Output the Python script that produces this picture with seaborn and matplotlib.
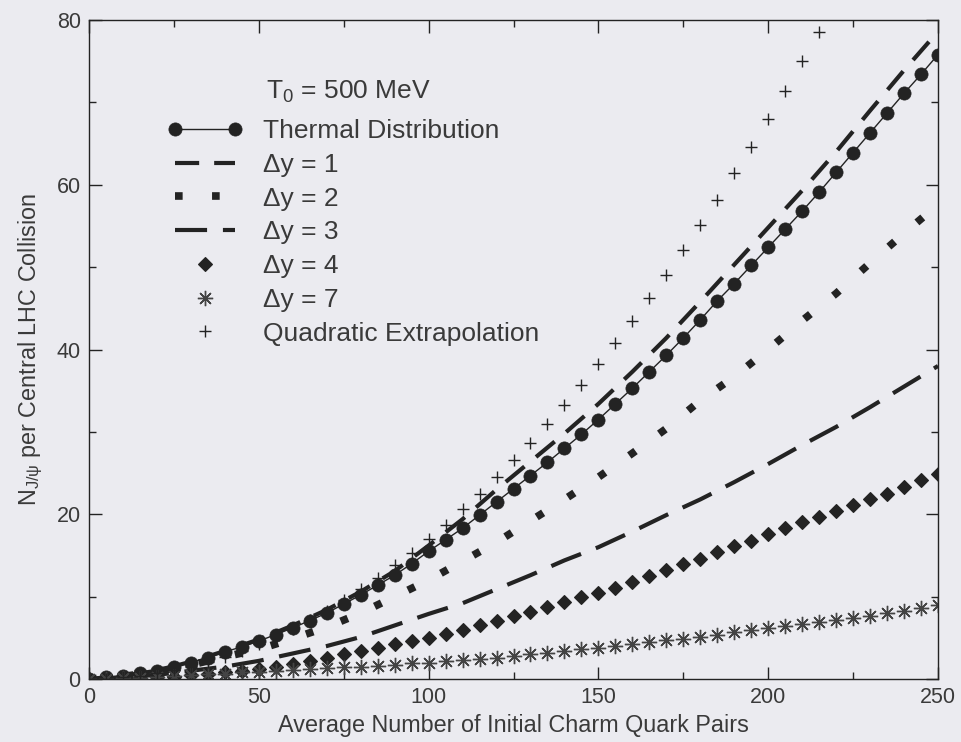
import matplotlib
matplotlib.use("Agg")
import matplotlib.pyplot as plt
from matplotlib.ticker import MultipleLocator
from matplotlib.legend_handler import HandlerLine2D
import seaborn as sns

# ---- data -------------------------------------------------------------
x_fine = list(range(0, 251, 5))
x_line = list(range(0, 251, 10))
x_quad = list(range(0, 216, 5))

thermal = [0.0, 0.2, 0.4, 0.7, 1.0, 1.5, 2.0, 2.6, 3.3, 3.9,
           4.6, 5.4, 6.2, 7.1, 8.0, 9.1, 10.2, 11.4, 12.6, 14.0,
           15.5, 16.9, 18.3, 19.9, 21.5, 23.1, 24.7, 26.3, 28.0, 29.7,
           31.5, 33.4, 35.3, 37.3, 39.3, 41.4, 43.6, 45.9, 48.0, 50.2,
           52.4, 54.6, 56.8, 59.1, 61.5, 63.9, 66.3, 68.7, 71.1, 73.4,
           75.8]

dy1 = [0.0, 0.4, 1.0, 2.1, 3.4, 4.8, 6.5, 8.4, 10.6, 13.1, 16.2, 19.4, 23.0,
       26.4, 29.8, 33.4, 37.3, 41.4, 45.8, 50.3, 54.8, 59.3, 64.0, 69.0,
       73.9, 78.6]

dy2 = [0.0, 0.3, 0.9, 1.7, 2.7, 3.6, 4.9, 6.3, 8.0, 10.0, 12.0, 14.3, 16.6,
       19.2, 21.8, 24.5, 27.4, 30.4, 33.8, 36.7, 40.0, 43.5, 46.8, 50.5,
       54.1, 57.6]

dy3 = [0.0, 0.2, 0.5, 1.0, 1.5, 2.2, 3.1, 4.0, 5.1, 6.5, 7.9, 9.2, 10.9,
       12.6, 14.4, 16.0, 17.9, 19.9, 21.8, 23.9, 26.1, 28.4, 30.6, 33.0,
       35.5, 38.0]

dy4 = [0.0, 0.02, 0.06, 0.12, 0.2, 0.3, 0.45, 0.6, 0.8, 1.0,
       1.25, 1.5, 1.8, 2.2, 2.6, 3.0, 3.4, 3.8, 4.2, 4.6,
       5.0, 5.5, 6.0, 6.5, 7.0, 7.6, 8.1, 8.7, 9.3, 9.9,
       10.5, 11.1, 11.8, 12.5, 13.2, 13.9, 14.6, 15.4, 16.1, 16.8,
       17.6, 18.3, 19.0, 19.7, 20.4, 21.1, 21.8, 22.5, 23.3, 24.1,
       24.9]

dy7 = [0.0, 0.05, 0.1, 0.15, 0.25, 0.35, 0.45, 0.55, 0.65, 0.8,
       0.9, 1.0, 1.1, 1.2, 1.3, 1.4, 1.5, 1.6, 1.75, 1.9,
       2.0, 2.15, 2.3, 2.45, 2.6, 2.8, 3.0, 3.2, 3.4, 3.6,
       3.8, 4.0, 4.2, 4.45, 4.7, 4.9, 5.15, 5.4, 5.65, 5.9,
       6.15, 6.4, 6.65, 6.9, 7.15, 7.4, 7.7, 8.0, 8.3, 8.6,
       9.0]

quad = [0.0, 0.0, 0.2, 0.4, 0.7, 1.1, 1.5, 2.1, 2.7, 3.4,
        4.3, 5.1, 6.1, 7.2, 8.3, 9.6, 10.9, 12.3, 13.8, 15.3,
        17.0, 18.7, 20.6, 22.5, 24.5, 26.6, 28.7, 31.0, 33.3, 35.7,
        38.3, 40.8, 43.5, 46.3, 49.1, 52.1, 55.1, 58.2, 61.4, 64.6,
        68.0, 71.4, 75.0, 78.6]

labels = ["Thermal Distribution", "\u0394y = 1", "\u0394y = 2", "\u0394y = 3",
          "\u0394y = 4", "\u0394y = 7", "Quadratic Extrapolation"]
x_ticks = [0, 50, 100, 150, 200, 250]
y_ticks = [0, 20, 40, 60, 80]

# ---- style ------------------------------------------------------------
sns.set_theme(style="ticks")
plt.rcParams["font.family"] = ["Liberation Sans", "DejaVu Sans"]
plt.rcParams["mathtext.fontset"] = "custom"
plt.rcParams["mathtext.rm"] = "Liberation Sans"
plt.rcParams["mathtext.it"] = "Liberation Sans:italic"
plt.rcParams["mathtext.bf"] = "Liberation Sans:bold"

bg = "#ebebf0"
ink = "#232323"
txt = "#3a3a3a"
fs_axis = 16.8
fs_leg = 19

fig = plt.figure(figsize=(9.62, 7.42), dpi=100, facecolor=bg)
ax = fig.add_axes([89 / 962, 1 - 679 / 742, (938 - 89) / 962, (679 - 20) / 742])
ax.set_facecolor(bg)

common = dict(ax=ax, errorbar=None, legend=False, color=ink)

sns.lineplot(x=x_fine, y=thermal, linewidth=1.0, marker="o", markersize=9.5,
             markerfacecolor=ink, markeredgecolor=ink, markeredgewidth=0.5,
             **common)
h_thermal = ax.lines[-1]

sns.lineplot(x=x_line, y=dy1, linewidth=3.0, linestyle=(0, (5.8, 3.6)),
             dash_capstyle="butt", **common)
h_dy1 = ax.lines[-1]

sns.lineplot(x=x_line, y=dy2, linewidth=5.5, linestyle=(0, (1.0, 3.85)),
             dash_capstyle="butt", **common)
h_dy2 = ax.lines[-1]

sns.lineplot(x=x_line, y=dy3, linewidth=3.0, linestyle=(0, (7.7, 3.8)),
             dash_capstyle="butt", **common)
h_dy3 = ax.lines[-1]

sns.lineplot(x=x_fine, y=dy4, linestyle="none", marker="D", markersize=6.8,
             markerfacecolor=ink, markeredgecolor=ink, markeredgewidth=0.8,
             **common)
h_dy4 = ax.lines[-1]

sns.lineplot(x=x_fine, y=dy7, linestyle="none", marker=(8, 2, 0), markersize=11,
             markeredgecolor="#444444", markeredgewidth=1.0, **common)
h_dy7 = ax.lines[-1]

sns.lineplot(x=x_quad, y=quad, linestyle="none", marker="+", markersize=9,
             markeredgecolor=ink, markeredgewidth=1.0, **common)
h_quad = ax.lines[-1]

# ---- axes -------------------------------------------------------------
ax.set_xlim(0, 250)
ax.set_ylim(0, 80)
ax.set_xticks(x_ticks)
ax.set_yticks(y_ticks)
ax.xaxis.set_minor_locator(MultipleLocator(25))
ax.yaxis.set_minor_locator(MultipleLocator(10))
ax.tick_params(which="both", direction="in", top=True, right=True,
               color=ink, width=1.0)
ax.tick_params(which="major", length=9, labelsize=15.5, labelcolor=txt, pad=6)
ax.tick_params(which="minor", length=5)
for sp in ax.spines.values():
    sp.set_color(ink)
    sp.set_linewidth(1.0)

ax.set_xlabel("Average Number of Initial Charm Quark Pairs", fontsize=fs_axis,
              color=txt, labelpad=4)
ax.set_ylabel(r"N$_{\rm J/\psi}$ per Central LHC Collision", fontsize=fs_axis,
              color=txt, labelpad=8)

# ---- legend -----------------------------------------------------------
handles = [h_thermal, h_dy1, h_dy2, h_dy3, h_dy4, h_dy7, h_quad]
single = HandlerLine2D(numpoints=1)
leg = ax.legend(handles, labels, loc="upper left",
                bbox_to_anchor=(167 / 962, 1 - 119 / 742),
                bbox_transform=fig.transFigure, frameon=False,
                fontsize=fs_leg, labelcolor=txt, borderpad=0, borderaxespad=0,
                handlelength=2.88, handletextpad=0.75, labelspacing=0.37,
                numpoints=2,
                handler_map={h_dy4: single, h_dy7: single, h_quad: single})

fig.text(266 / 962, 1 - 92 / 742, r"T$_0$ = 500 MeV", fontsize=fs_leg,
         color=txt, ha="left", va="center")

fig.savefig("out.png", dpi=100, facecolor=bg)
